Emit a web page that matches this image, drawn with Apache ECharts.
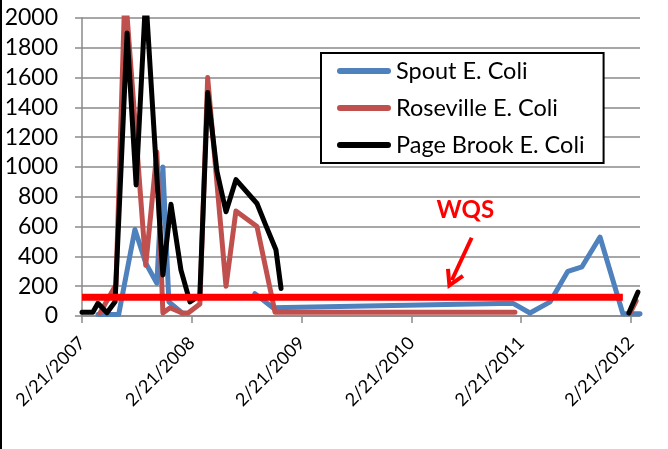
<!DOCTYPE html>
<html><head><meta charset="utf-8">
<script src="https://cdn.jsdelivr.net/npm/echarts@6/dist/echarts.min.js"></script>
<style>html,body{margin:0;padding:0;background:#fff}#c{width:668px;height:449px}</style>
</head><body><div id="c"></div>
<script>
// ---- data ----
const tickLabels = ['2/21/2007','2/21/2008','2/21/2009','2/21/2010','2/21/2011','2/21/2012'];
const axisStart = '2007-02-21';
const axisEnd = '2012-03-22';

const spoutDates  = ['2007-04-15','2007-06-23','2007-08-16','2007-09-21','2007-10-28','2007-11-17','2007-12-07','2008-01-20','2008-05-01','2008-09-18','2008-11-17','2011-01-25','2011-03-22','2011-05-28','2011-07-26','2011-09-11','2011-11-10','2012-01-25','2012-03-22'];
const spoutValues = [10, 10, 580, 355, 220, 1000, 95, 20, null, 150, 55, 85, 20, 95, 300, 330, 530, 15, 15];

const rosevilleDates  = ['2007-04-22','2007-06-14','2007-07-14','2007-09-21','2007-10-28','2007-11-17','2007-12-11','2008-01-20','2008-02-09','2008-03-19','2008-04-14','2008-06-14','2008-07-17','2008-09-25','2008-11-24','2011-01-31','2011-08-01','2012-02-18','2012-03-09'];
const rosevilleValues = [20, 210, 2200, 340, 1100, 20, 55, 20, 20, 80, 1600, 200, 705, 600, 25, 25, null, 20, 100];

const pageDates  = ['2007-02-21','2007-03-29','2007-04-15','2007-05-15','2007-06-11','2007-07-21','2007-08-20','2007-09-21','2007-11-17','2007-12-14','2008-01-16','2008-02-15','2008-03-19','2008-04-14','2008-05-15','2008-06-14','2008-07-17','2008-09-25','2008-10-22','2008-11-27','2008-12-14','2010-06-01','2012-02-14','2012-03-15'];
const pageValues = [25, 25, 85, 22, 95, 1900, 880, 2150, 275, 750, 310, 95, 140, 1500, 970, 700, 915, 755, 620, 445, 185, null, 20, 160];

const wqsValue = 126;
const wqsDates = ['2007-02-21','2012-01-25'];
const wqsLabel = 'WQS';
const wqsLabelPoint = ['2010-08-19', 711];
const arrowFrom = ['2010-09-09', 525];
const arrowTo   = ['2010-07-05', 240];

const seriesNames = ['Spout E. Coli','Roseville E. Coli','Page Brook E. Coli'];
// ---- helpers ----
function d(s){const p=s.split('-').map(Number);return new Date(p[0],p[1]-1,p[2]).getTime();}
function dm(s){const p=s.split('/').map(Number);return new Date(p[2],p[0]-1,p[1]).getTime();}
const tickValues = tickLabels.map(dm);
function pairs(ds, vs){return ds.map((s,i)=>[d(s), vs[i]]);}
function labelFor(v){let best=0;for(let i=1;i<tickValues.length;i++){if(Math.abs(tickValues[i]-v)<Math.abs(tickValues[best]-v))best=i;}return Math.abs(tickValues[best]-v)<86400000?tickLabels[best]:'';}

const FONT = 'Lato';
const grey = '#8a8a8a';
const ARROW = 'path://M10,0 L20,17.3 L16.5,19.3 L10,8 L3.5,19.3 L0,17.3 Z';
const chart = echarts.init(document.getElementById('c'), null, {renderer:'canvas'});
const lineSeries = (name, ds, vs, color) => ({
  name, type:'line', data: pairs(ds, vs), showSymbol:false, symbol:'none', connectNulls:false,
  clip:true, animation:false,
  lineStyle:{color, width:5, cap:'round', join:'round'}, itemStyle:{color}
});
chart.setOption({
  animation:false,
  backgroundColor:'#fff',
  grid:{left:82, right:28, top:18, bottom:133, containLabel:false},
  legend:{
    data: seriesNames, orient:'vertical', left:321, top:53,
    padding:[5,19,5,16], itemGap:11, itemWidth:54, itemHeight:6,
    icon:'path://M3,0 L51,0 A3,3 0 0 1 51,6 L3,6 A3,3 0 0 1 3,0 Z',
    borderColor:'#000', borderWidth:2, backgroundColor:'#fff',
    textStyle:{fontFamily:FONT, fontSize:23.5, color:'#000', lineHeight:26},
    selectedMode:false
  },
  xAxis:{
    type:'value', min:d(axisStart), max:d(axisEnd),
    axisLine:{show:true, lineStyle:{color:grey, width:1.5}},
    axisTick:{show:true, customValues:tickValues, length:7, lineStyle:{color:grey, width:1.5}},
    axisLabel:{customValues:tickValues, rotate:45, margin:24, color:'#000', fontFamily:FONT, fontSize:18,
      formatter:(v)=>labelFor(v)},
    splitLine:{show:false}
  },
  yAxis:{
    type:'value', min:0, max:2000, interval:200,
    axisLine:{show:true, lineStyle:{color:grey, width:1.5}},
    axisTick:{show:true, length:7, lineStyle:{color:grey, width:1.5}},
    axisLabel:{margin:24, color:'#000', fontFamily:FONT, fontSize:23, formatter:(v)=>String(v)},
    splitLine:{show:true, lineStyle:{color:grey, width:1.5}}
  },
  series:[
    lineSeries(seriesNames[0], spoutDates, spoutValues, '#4f81bd'),
    lineSeries(seriesNames[1], rosevilleDates, rosevilleValues, '#c0504d'),
    lineSeries(seriesNames[2], pageDates, pageValues, '#000000'),
    {
      name:'WQS', type:'line', data: wqsDates.map(s=>[d(s), wqsValue]), showSymbol:false, symbol:'none',
      lineStyle:{color:'#ff0000', width:7, cap:'butt'}, z:5, silent:true, clip:false,
      markLine:{
        silent:true, symbol:['none','none'], animation:false,
        lineStyle:{color:'#ff0000', width:4, type:'solid'}, label:{show:false},
        data:[[
          {coord:[d(arrowFrom[0]), arrowFrom[1]], symbol:'none'},
          {coord:[d(arrowTo[0]), arrowTo[1]], symbol:ARROW, symbolSize:[20,19.3], itemStyle:{color:'#ff0000'}}
        ]]
      },
      markPoint:{
        silent:true, animation:false, symbol:'circle', symbolSize:0,
        label:{show:true, position:'inside', formatter:wqsLabel, color:'#ff0000', fontWeight:'bold', fontFamily:FONT, fontSize:24},
        data:[{coord:[d(wqsLabelPoint[0]), wqsLabelPoint[1]]}]
      }
    }
  ],
  graphic:[{type:'rect', left:0, top:0, shape:{width:2, height:449}, style:{fill:'#000'}, silent:true}]
});
</script></body></html>
